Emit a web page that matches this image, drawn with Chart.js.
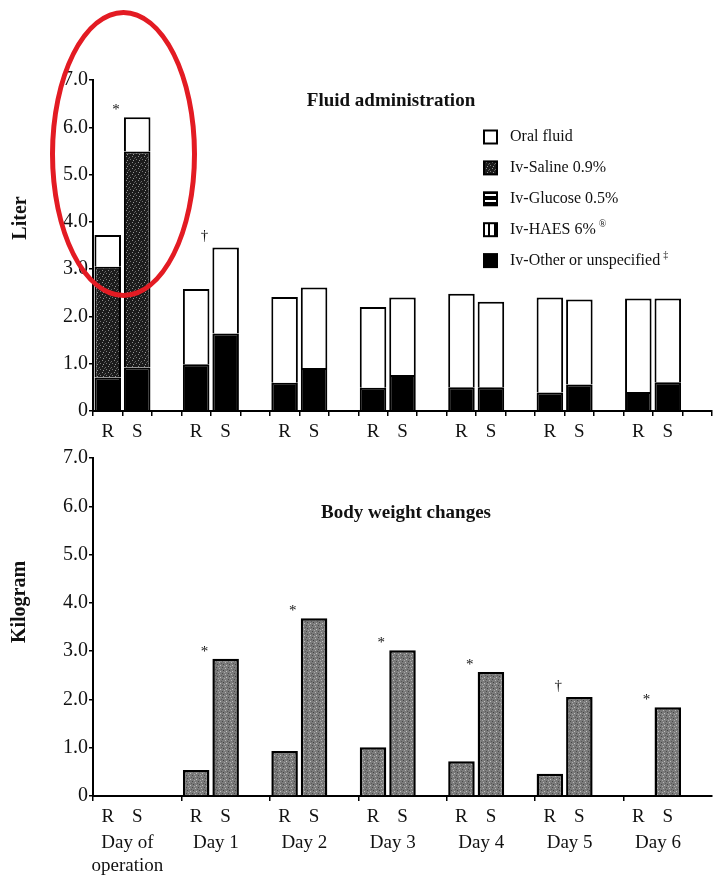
<!DOCTYPE html>
<html>
<head>
<meta charset="utf-8">
<title>Fluid administration and body weight changes</title>
<script src="https://cdn.jsdelivr.net/npm/chart.js@4.4.1/dist/chart.umd.min.js"></script>
<style>
  html, body { margin: 0; padding: 0; background: #fff; }
  #wrap { position: relative; width: 716px; height: 877px; overflow: hidden; }
  #wrap canvas { position: absolute; left: 0; }
  #fluidChart { top: 0; }
  #weightChart { top: 445px; }
  #ring {
    position: absolute; left: 50px; top: 10px; width: 137px; height: 278px;
    border: 5px solid #e31b23; border-radius: 50%; pointer-events: none;
  }
</style>
</head>
<body>
<div id="wrap">
  <canvas id="fluidChart" width="716" height="445"></canvas>
  <canvas id="weightChart" width="716" height="432"></canvas>
  <div id="ring"></div>
</div>
<script>
const days = ['Day of operation', 'Day 1', 'Day 2', 'Day 3', 'Day 4', 'Day 5', 'Day 6'];
const dayLabels = [['Day of', 'operation'], 'Day 1', 'Day 2', 'Day 3', 'Day 4', 'Day 5', 'Day 6'];
const groups = ['R', 'S'];

// fluid administration, liter per day (R and S groups)
const oralR    = [0.67, 1.59, 1.81, 1.71, 1.98, 2.01, 1.98];
const oralS    = [0.72, 1.82, 1.70, 1.64, 1.81, 1.80, 1.77];
const salineR  = [2.34, 0, 0, 0, 0, 0, 0];
const salineS  = [4.57, 0, 0, 0, 0, 0, 0];
const glucoseR = [0, 0, 0, 0, 0, 0, 0];
const glucoseS = [0, 0, 0, 0, 0, 0, 0];
const haesR    = [0, 0, 0, 0, 0, 0, 0];
const haesS    = [0, 0, 0, 0, 0, 0, 0];
const otherR   = [0.71, 0.99, 0.60, 0.49, 0.50, 0.39, 0.40];
const otherS   = [0.92, 1.64, 0.91, 0.76, 0.50, 0.56, 0.61];

// body weight change, kg
const weightR = [null, 0.54, 0.93, 1.01, 0.72, 0.46, null];
const weightS = [null, 2.84, 3.68, 3.02, 2.57, 2.05, 1.84];

const fluidSig  = ['*', '†', '', '', '', '', ''];
const weightSig = ['', '*', '*', '*', '*', '†', '*'];

const serif = '"Liberation Serif", "Times New Roman", serif';
const ink = '#111';

// each day = R slot, S slot, empty slot
const slot = (r, s) => r.flatMap((v, i) => [v, s[i], null]);
const slotLabels = days.flatMap(() => [...groups, '']);
const dayTicks = days.map((d, i) => 3 * i + 1.17);

function makePattern(size, bg, marks) {
  const c = document.createElement('canvas');
  c.width = size; c.height = size;
  const g = c.getContext('2d');
  g.fillStyle = bg;
  g.fillRect(0, 0, size, size);
  marks.forEach(([col, x, y, w, h]) => { g.fillStyle = col; g.fillRect(x, y, w, h); });
  return g.createPattern(c, 'repeat');
}

const salineFill = makePattern(6, '#1c1c1c', [
  ['#8c8c8c', 0, 0, 1, 1], ['#6a6a6a', 3, 1, 1, 1], ['#9a9a9a', 1, 4, 1, 1],
  ['#777', 4, 3, 1, 1], ['#555', 2, 2, 1, 1]
]);
const glucoseFill = makePattern(6, '#000', [['#fff', 0, 2, 6, 2]]);
const haesFill = makePattern(6, '#fff', [['#000', 2, 0, 2, 6]]);
const weightFill = makePattern(6, '#7a7a7a', [
  ['#4a4a4a', 0, 0, 1, 1], ['#b5b5b5', 3, 1, 1, 1], ['#444', 1, 3, 1, 1],
  ['#c2c2c2', 4, 4, 1, 1], ['#5a5a5a', 5, 2, 1, 1], ['#a8a8a8', 2, 5, 1, 1]
]);

const fluidTotalS = oralS.map((v, i) => v + salineS[i] + glucoseS[i] + haesS[i] + otherS[i]);

// titles, rotated axis title, significance marks and the legend
const paperPlugin = {
  id: 'paper',
  afterDraw(chart, args, opts) {
    const ctx = chart.ctx, area = chart.chartArea;
    const x = chart.scales.x, y = chart.scales.y;
    ctx.save();
    ctx.fillStyle = ink;
    ctx.textAlign = 'center';
    ctx.textBaseline = 'middle';

    ctx.font = 'bold 19px ' + serif;
    ctx.fillText(opts.title, area.left + opts.titleDx, area.top + opts.titleDy);

    ctx.save();
    ctx.font = 'bold 20px ' + serif;
    ctx.translate(opts.axisTitleX, area.top + opts.axisTitleDy);
    ctx.rotate(-Math.PI / 2);
    ctx.fillText(opts.axisTitle, 0, 0);
    ctx.restore();

    ctx.font = '15px ' + serif;
    const w = x.getPixelForValue(1) - x.getPixelForValue(0);
    opts.marks.forEach((m, k) => {
      if (!m) return;
      const px = x.getPixelForValue(3 * k) + 0.28 * w;
      const py = y.getPixelForValue(opts.markAt[k]) - (m === '*' ? 7 : 11);
      ctx.fillText(m, px, py);
    });

    if (opts.legend) {
      const items = chart.data.datasets.slice().reverse();
      ctx.textAlign = 'left';
      items.forEach((ds, i) => {
        const bx = area.left + 391, cy = area.top + 57 + i * 30.9;
        ctx.fillStyle = ds.backgroundColor;
        ctx.fillRect(bx, cy - 6.5, 13, 13);
        ctx.strokeStyle = '#000';
        ctx.lineWidth = 2;
        ctx.strokeRect(bx, cy - 6.5, 13, 13);
        ctx.fillStyle = ink;
        ctx.font = '16px ' + serif;
        ctx.fillText(ds.label, area.left + 417, cy);
        if (ds.sup) {
          const tw = ctx.measureText(ds.label).width;
          ctx.font = '10px ' + serif;
          ctx.fillText(ds.sup, area.left + 417 + tw + 3, cy - 5);
        }
      });
    }
    ctx.restore();
  }
};

function yAxis() {
  return {
    min: 0, max: 7,
    afterFit: s => { s.width = 93; },
    grid: { drawOnChartArea: false, drawTicks: true, tickLength: 4, color: '#000', lineWidth: 1.5 },
    border: { color: '#000', width: 2 },
    ticks: {
      stepSize: 1, padding: 1, color: ink,
      font: { family: serif, size: 20 },
      callback: v => v === 0 ? '0' : v.toFixed(1)
    }
  };
}

function xAxis(height, tickColor) {
  return {
    weight: 0,
    afterFit: s => { s.height = height; },
    grid: { drawOnChartArea: false, drawTicks: true, tickLength: 5, color: tickColor, lineWidth: 1.5, offset: true },
    border: { color: '#000', width: 2 },
    ticks: { autoSkip: false, maxRotation: 0, padding: 5, color: ink, font: { family: serif, size: 19 } }
  };
}

const barLook = { barPercentage: 0.9, categoryPercentage: 1.0, borderColor: '#000', borderWidth: 2 };

new Chart(document.getElementById('fluidChart'), {
  type: 'bar',
  data: {
    labels: slotLabels,
    datasets: [
      { label: 'Iv-Other or unspecified', sup: '‡', data: slot(otherR, otherS), backgroundColor: '#000', ...barLook },
      { label: 'Iv-HAES 6%', sup: '®', data: slot(haesR, haesS), backgroundColor: haesFill, ...barLook },
      { label: 'Iv-Glucose 0.5%', data: slot(glucoseR, glucoseS), backgroundColor: glucoseFill, ...barLook },
      { label: 'Iv-Saline 0.9%', data: slot(salineR, salineS), backgroundColor: salineFill, ...barLook },
      { label: 'Oral fluid', data: slot(oralR, oralS), backgroundColor: '#fff', ...barLook }
    ]
  },
  options: {
    responsive: false, animation: false,
    layout: { padding: { top: 80, right: 4, left: 0, bottom: 0 } },
    scales: {
      x: { ...xAxis(34, '#000'), stacked: true },
      y: { ...yAxis(), stacked: true }
    },
    plugins: {
      legend: { display: false }, tooltip: { enabled: false },
      paper: {
        title: 'Fluid administration', titleDx: 298, titleDy: 21,
        axisTitle: 'Liter', axisTitleX: 21, axisTitleDy: 138,
        marks: fluidSig, markAt: fluidTotalS, legend: true
      }
    }
  },
  plugins: [paperPlugin]
});

new Chart(document.getElementById('weightChart'), {
  type: 'bar',
  data: {
    labels: slotLabels,
    datasets: [
      { label: 'Body weight change', data: slot(weightR, weightS), backgroundColor: weightFill, ...barLook, borderWidth: 2.5 }
    ]
  },
  options: {
    responsive: false, animation: false,
    layout: { padding: { top: 13, right: 4, left: 0, bottom: 0 } },
    scales: {
      x: xAxis(32, c => c.index % 3 === 0 ? '#000' : 'rgba(0,0,0,0)'),
      xDay: {
        type: 'linear', position: 'bottom', weight: 1, min: 0, max: 21, offset: false,
        afterBuildTicks: s => { s.ticks = dayTicks.map(v => ({ value: v })); },
        afterFit: s => { s.height = 49; },
        grid: { display: false, drawTicks: false, offset: false },
        border: { display: false },
        ticks: {
          autoSkip: false, maxRotation: 0, padding: 4, color: ink,
          font: { family: serif, size: 19 },
          callback: (v, i) => dayLabels[i]
        }
      },
      y: yAxis()
    },
    plugins: {
      legend: { display: false }, tooltip: { enabled: false },
      paper: {
        title: 'Body weight changes', titleDx: 313, titleDy: 55,
        axisTitle: 'Kilogram', axisTitleX: 20, axisTitleDy: 144,
        marks: weightSig, markAt: weightS, legend: false
      }
    }
  },
  plugins: [paperPlugin]
});
</script>
</body>
</html>
